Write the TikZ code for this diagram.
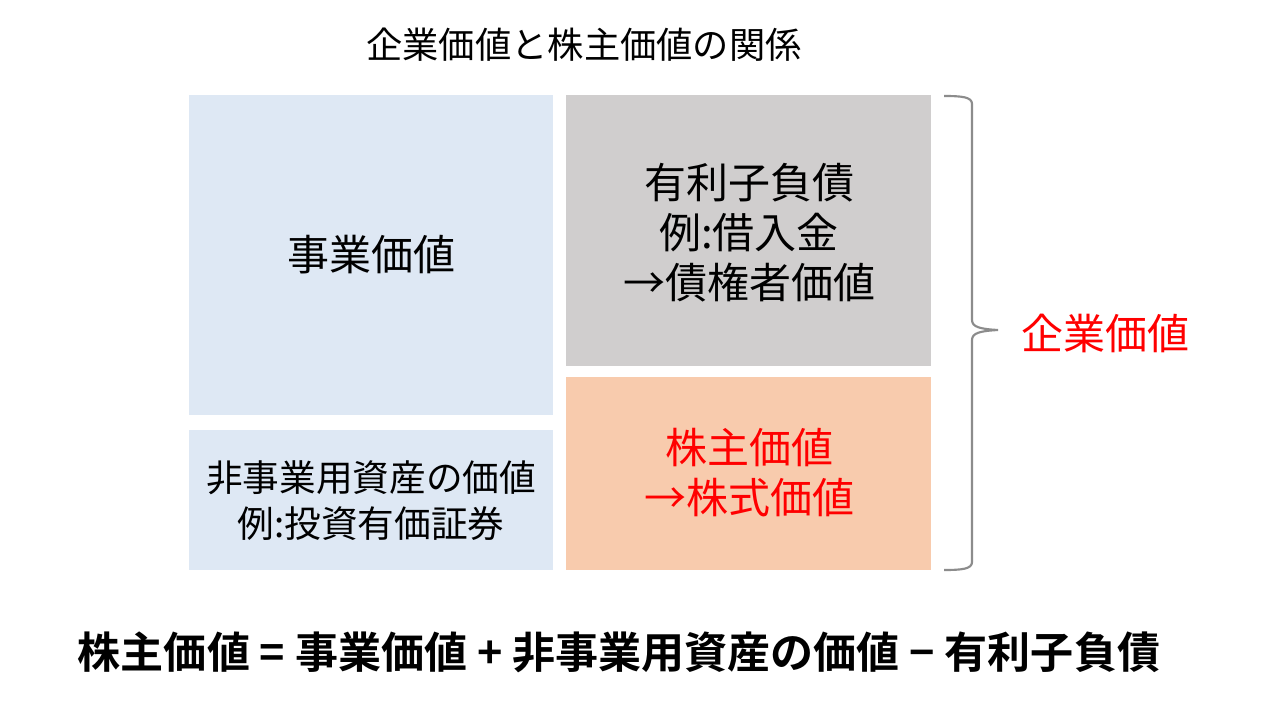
\documentclass[tikz,border=0pt]{standalone}
\usepackage{fontspec}
\newfontfamily\jp{Noto Sans CJK JP}
\newfontfamily\jpb{Noto Sans CJK JP Bold}
\definecolor{lblue}{HTML}{DEE8F4}
\definecolor{lgray}{HTML}{D0CECE}
\definecolor{lorange}{HTML}{F8CBAD}
\definecolor{bracegray}{HTML}{8C8C8C}
\begin{document}
\begin{tikzpicture}[x=0.75pt,y=-0.75pt,
  boxtext/.style={align=center,inner sep=0pt},
  big/.style={font=\jp\fontsize{31.5}{37.5}\selectfont},
  mid/.style={font=\jp\fontsize{27.5}{34.5}\selectfont}]
\useasboundingbox (0,0) rectangle (1280,720);
\fill[white] (0,0) rectangle (1280,720);
\node[font=\jp\fontsize{27.2}{30}\selectfont,inner sep=0pt] (title) at (584,45) {企業価値と株主価値の関係};
\fill[lblue] (189,95) rectangle (553,415);
\fill[lblue] (189,430) rectangle (553,570);
\fill[lgray] (566,95) rectangle (931,366);
\fill[lorange] (566,377) rectangle (931,570);
\node[boxtext,big] (jigyo) at (371,255) {事業価値};
\node[boxtext,mid] (hijigyo) at (371,501) {非事業用資産の価値\\例:投資有価証券};
\node[boxtext,big] (debt) at (749,233) {有利子負債\\例:借入金\\→債権者価値};
\node[boxtext,big,text=red] (equity) at (749,473) {株主価値\\→株式価値};
\draw[bracegray,line width=1.6pt] (944,96) .. controls (962,96) and (972,97) .. (972,104) -- (972,320) .. controls (972,327) and (980,329) .. (998,330)
  .. controls (980,331) and (972,333) .. (972,340) -- (972,562) .. controls (972,569) and (962,570) .. (944,570);
\node[big,text=red,inner sep=0pt] (kigyo) at (1105,333) {企業価値};
\node[font=\jpb\fontsize{32.3}{36}\selectfont,inner sep=0pt] (formula) at (619,652) {株主価値 = 事業価値 + 非事業用資産の価値 − 有利子負債};
\end{tikzpicture}
\end{document}
